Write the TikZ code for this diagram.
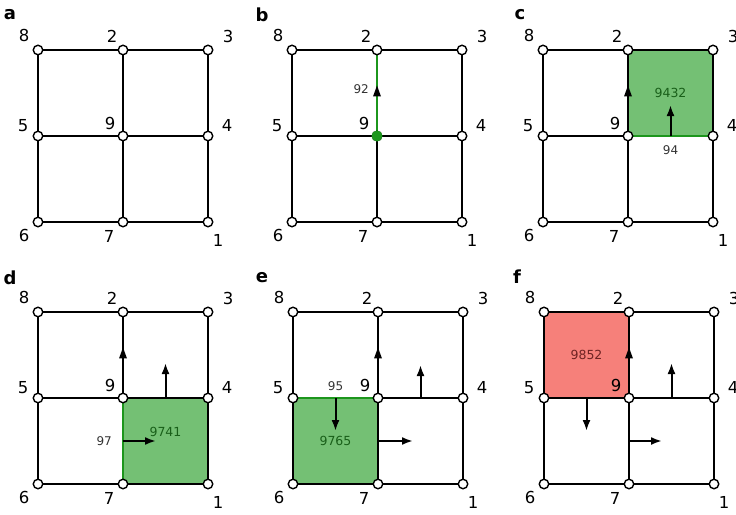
\documentclass[tikz,border=0pt]{standalone}
\usepackage{fontspec}
\setmainfont{DejaVu Sans}
\usetikzlibrary{arrows.meta,positioning,calc,decorations.markings}
\definecolor{cellgreen}{RGB}{116,192,116}
\definecolor{gline}{RGB}{28,150,28}
\definecolor{gtext}{RGB}{25,95,25}
\definecolor{cellred}{RGB}{246,128,122}
\definecolor{rtext}{RGB}{110,35,35}
\pgfdeclarelayer{fills}
\pgfdeclarelayer{edges}
\pgfsetlayers{fills,edges,main}
\tikzset{
  vtx/.style={circle,draw,fill=white,line width=1.4pt,inner sep=0pt,minimum size=9.5pt},
  numlbl/.style={font=\fontsize{16.5}{16.5}\selectfont,inner sep=0pt},
  panlbl/.style={font=\fontsize{18}{18}\selectfont\bfseries,inner sep=0pt},
  edg/.style={line width=2.3pt},
  gedg/.style={edg,draw=gline},
  arr/.style={-{Latex[length=11pt,width=8pt]},line width=2pt},
  midarr/.style={postaction={decorate},decoration={markings,mark=at position 0.6 with {\fill[black] (-11pt,-4pt) -- (0pt,0pt) -- (-11pt,4pt) -- cycle;}}},
  elbl/.style={font=\fontsize{12}{12}\selectfont,text=black!80,inner sep=0pt},
  cellg/.style={fill=cellgreen},
  cellr/.style={fill=cellred},
  gtxt/.style={font=\fontsize{12.5}{12.5}\selectfont,text=gtext,inner sep=0pt},
  rtxt/.style={font=\fontsize{12.5}{12.5}\selectfont,text=rtext,inner sep=0pt}
}

\begin{document}
\begin{tikzpicture}[x=1pt,y=-1pt]
  \useasboundingbox (0,0) rectangle (736,514);

  % the six 3x3 grids
  \foreach \p/\ox/\oy/\lx/\ly in {a/38/50/10/15,b/292/50/262/15,c/543/50/520/15,d/38/312/10/278,e/293/312/262/278,f/544/312/517/277}{
    \node[panlbl] (pan\p) at (\lx,\ly) {\p};
    \begin{scope}[shift={(\ox,\oy)},x=85pt,y=-86pt]
      \foreach \n/\c/\r in {8/0/0,2/1/0,3/2/0,5/0/1,9/1/1,4/2/1,6/0/2,7/1/2,1/2/2}
        \node[vtx] (\p\n) at (\c,\r) {};
      \foreach \n/\dx/\dy in {8/-14/15,2/-11/14,3/20/14,5/-15/10,9/-13/13,4/19/11,6/-14/-13,7/-14/-14,1/10/-18}
        \node[numlbl] (lbl\p\n) at ([shift={(\dx pt,\dy pt)}]\p\n) {\n};
    \end{scope}
    \begin{pgfonlayer}{edges}
      \draw[edg] (\p8) -- (\p2) -- (\p3) -- (\p4) -- (\p1) -- (\p7) -- (\p6) -- (\p5) -- (\p8);
      \draw[edg] (\p2) -- (\p9) -- (\p7);
      \draw[edg] (\p5) -- (\p9) -- (\p4);
    \end{pgfonlayer}
  }

  % b
  \begin{pgfonlayer}{edges}
    \draw[gedg,midarr] (b9) -- node[elbl,left=7pt,pos=0.55]{92} (b2);
  \end{pgfonlayer}
  \fill[gline] (b9) circle (5.5pt);

  % c
  \begin{pgfonlayer}{fills}
    \fill[cellg] (c9.center) rectangle (c3.center);
  \end{pgfonlayer}
  \begin{pgfonlayer}{edges}
    \draw[edg,midarr] (c9) -- (c2);
    \draw[gedg] (c9) -- node[elbl,below=8pt]{94} (c4);
  \end{pgfonlayer}
  \coordinate (c94) at ($(c9)!0.5!(c4)$);
  \coordinate (c94t) at ([yshift=31pt]c94);
  \draw[arr] (c94) -- (c94t);
  \node[gtxt] (t9432) at ($(c9)!0.5!(c3)$) {9432};

  % d
  \begin{pgfonlayer}{fills}
    \fill[cellg] (d9.center) rectangle (d1.center);
  \end{pgfonlayer}
  \begin{pgfonlayer}{edges}
    \draw[edg,midarr] (d9) -- (d2);
    \draw[gedg] (d9) -- node[elbl,left=10pt]{97} (d7);
  \end{pgfonlayer}
  \coordinate (d97) at ($(d9)!0.5!(d7)$);
  \coordinate (d97t) at ([xshift=33pt]d97);
  \coordinate (d94) at ($(d9)!0.5!(d4)$);
  \coordinate (d94t) at ([yshift=35pt]d94);
  \draw[arr] (d97) -- (d97t);
  \draw[arr] (d94) -- (d94t);
  \node[gtxt] (t9741) at ($(d9)!0.5!(d1)+(0,-9)$) {9741};

  % e
  \begin{pgfonlayer}{fills}
    \fill[cellg] (e5.center) rectangle (e7.center);
  \end{pgfonlayer}
  \begin{pgfonlayer}{edges}
    \draw[edg,midarr] (e9) -- (e2);
    \draw[gedg] (e5) -- node[elbl,above=6pt]{95} (e9);
  \end{pgfonlayer}
  \coordinate (e59) at ($(e5)!0.5!(e9)$);
  \coordinate (e59t) at ([yshift=-33pt]e59);
  \coordinate (e97) at ($(e9)!0.5!(e7)$);
  \coordinate (e97t) at ([xshift=35pt]e97);
  \coordinate (e94) at ($(e9)!0.5!(e4)$);
  \coordinate (e94t) at ([yshift=33pt]e94);
  \draw[arr] (e59) -- (e59t);
  \draw[arr] (e97) -- (e97t);
  \draw[arr] (e94) -- (e94t);
  \node[gtxt] (t9765) at ($(e5)!0.5!(e7)$) {9765};

  % f
  \begin{pgfonlayer}{fills}
    \fill[cellr] (f8.center) rectangle (f9.center);
  \end{pgfonlayer}
  \begin{pgfonlayer}{edges}
    \draw[edg,midarr] (f9) -- (f2);
  \end{pgfonlayer}
  \coordinate (f59) at ($(f5)!0.5!(f9)$);
  \coordinate (f59t) at ([yshift=-33pt]f59);
  \coordinate (f97) at ($(f9)!0.5!(f7)$);
  \coordinate (f97t) at ([xshift=33pt]f97);
  \coordinate (f94) at ($(f9)!0.5!(f4)$);
  \coordinate (f94t) at ([yshift=35pt]f94);
  \draw[arr] (f59) -- (f59t);
  \draw[arr] (f97) -- (f97t);
  \draw[arr] (f94) -- (f94t);
  \node[rtxt] (t9852) at ($(f8)!0.5!(f9)$) {9852};
\end{tikzpicture}
\end{document}
